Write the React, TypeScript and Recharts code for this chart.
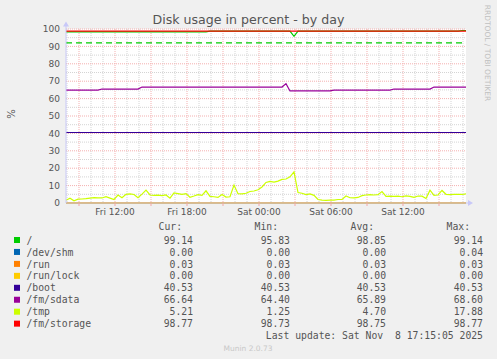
import React from 'react';
import { LineChart, Line, XAxis, YAxis, CartesianGrid, ReferenceLine, ReferenceDot } from 'recharts';

// Munin df plugin, day graph: samples every 20 minutes from Fri 07:55 to Sat 17:15
// (x values are hours counted from Fri 00:00)
const tStart = 7 + 55 / 60;
const tEnd = 41 + 15 / 60;
const sampleCount = 101;
const times = Array.from({ length: sampleCount }, (_, i) => tStart + (i * 20) / 60);

const names = ['/', '/dev/shm', '/run', '/run/lock', '/boot', '/fm/sdata', '/tmp', '/fm/storage'];
const keys = ['root', 'devshm', 'run', 'runlock', 'boot', 'sdata', 'tmp', 'storage'];
const colors = ['#00cc00', '#0066b3', '#ff8000', '#ffcc00', '#330099', '#990099', '#ccff00', '#ff0000'];

// stepped series: [sample index where the level starts, value]
const rootSteps = [[0, 98.4], [36, 98.8], [57, 95.83], [58, 98.8], [99, 99.14]];
const devshmSteps = [[0, 0]];
const runSteps = [[0, 0.03]];
const runlockSteps = [[0, 0]];
const bootSteps = [[0, 40.53]];
const sdataSteps = [[0, 64.9], [9, 65.5], [19, 66.64], [55, 68.6], [56, 64.4], [67, 64.9], [82, 65.5], [92, 66.64]];
const storageSteps = [[0, 98.77]];

// /tmp, one value per sample
const tmpValues = [
  1.6, 2.8, 1.3, 2.2, 2.3, 2.5, 2.8, 3.1, 3.0, 2.9,
  3.6, 2.8, 2.0, 4.6, 3.0, 5.0, 5.2, 4.9, 3.0, 5.1,
  7.4, 4.6, 4.4, 4.5, 4.2, 4.6, 2.8, 5.8, 5.4, 5.0,
  5.4, 3.3, 4.0, 4.8, 4.4, 7.0, 3.8, 3.6, 3.2, 4.9,
  3.4, 3.6, 10.3, 5.3, 5.2, 5.6, 6.6, 6.9, 7.6, 9.2,
  11.8, 12.4, 12.0, 12.6, 13.6, 13.8, 15.0, 17.88, 6.0, 5.6,
  4.8, 5.2, 4.4, 2.0, 1.6, 1.5, 1.7, 1.6, 2.0, 2.1,
  4.0, 3.0, 2.9, 3.2, 4.2, 4.6, 4.8, 4.6, 4.8, 6.6,
  3.8, 4.0, 3.8, 4.0, 3.6, 4.1, 3.8, 3.2, 4.0, 3.9,
  2.6, 7.4, 4.4, 4.6, 7.2, 5.0, 4.8, 5.0, 5.0, 4.9,
  5.21,
];

const warningLevel = 92;

// legend table
const curVals = ['99.14', '0.00', '0.03', '0.00', '40.53', '66.64', '5.21', '98.77'];
const minVals = ['95.83', '0.00', '0.03', '0.00', '40.53', '64.40', '1.25', '98.73'];
const avgVals = ['98.85', '0.00', '0.03', '0.00', '40.53', '65.89', '4.70', '98.75'];
const maxVals = ['99.14', '0.04', '0.03', '0.00', '40.53', '68.60', '17.88', '98.77'];
const lastUpdate = 'Last update: Sat Nov\u00a0\u00a08 17:15:05 2025';

const yTicks = [0, 10, 20, 30, 40, 50, 60, 70, 80, 90, 100];
const yMinor = [5, 15, 25, 35, 45, 55, 65, 75, 85, 95];
const xMajor = [9, 12, 15, 18, 21, 24, 27, 30, 33, 36, 39];
const xMinor = [8, 10, 11, 13, 14, 16, 17, 19, 20, 22, 23, 25, 26, 28, 29, 31, 32, 34, 35, 37, 38, 40, 41];
const xLabels: Record<number, string> = { 12: 'Fri 12:00', 18: 'Fri 18:00', 24: 'Sat 00:00', 30: 'Sat 06:00', 36: 'Sat 12:00' };

function stepAt(steps: number[][], i: number) {
  let v = steps[0][1];
  for (const [from, val] of steps) if (i >= from) v = val;
  return v;
}

const data = times.map((t, i) => ({
  t,
  root: stepAt(rootSteps, i),
  devshm: stepAt(devshmSteps, i),
  run: stepAt(runSteps, i),
  runlock: stepAt(runlockSteps, i),
  boot: stepAt(bootSteps, i),
  sdata: stepAt(sdataSteps, i),
  tmp: tmpValues[i],
  storage: stepAt(storageSteps, i),
}));

const textColor = '#555';
const axisColor = '#c8c8f8';
const sans = 'DejaVu Sans';
const mono = 'DejaVu Sans Mono';

const RightArrow = (props: any) => {
  const { cx, cy } = props;
  return (
    <g>
      <line x1={cx} y1={cy} x2={cx + 3} y2={cy} stroke={axisColor} />
      <path d={`M${cx + 2},${cy - 3} L${cx + 7},${cy} L${cx + 2},${cy + 3} Z`} fill={axisColor} />
    </g>
  );
};

const UpArrow = (props: any) => {
  const { cx, cy } = props;
  return (
    <g>
      <line x1={cx} y1={cy} x2={cx} y2={cy - 3} stroke={axisColor} />
      <path d={`M${cx - 3},${cy - 2.5} L${cx},${cy - 7.5} L${cx + 3},${cy - 2.5} Z`} fill={axisColor} />
    </g>
  );
};

const rowY = (k: number) => 243.6 + k * 11.95;

export default function App() {
  return (
    <div style={{ position: 'absolute', left: 0, top: 0, width: 497, height: 359, background: '#f0f0f0', overflow: 'hidden' }}>
      <LineChart width={497} height={230} data={data} margin={{ top: 29, right: 31, bottom: 7, left: 26 }}>
        <CartesianGrid
          fill="#ffffff"
          stroke="#d4d4d4"
          strokeDasharray="1 1"
          horizontalValues={yMinor}
          verticalValues={xMinor}
        />
        <CartesianGrid
          stroke="#f4b0b0"
          strokeDasharray="1 1"
          horizontalValues={yTicks.slice(1)}
          verticalValues={xMajor}
        />
        <XAxis
          dataKey="t"
          type="number"
          domain={[tStart, tEnd]}
          ticks={xMajor}
          tickFormatter={(h: number) => xLabels[h] || ''}
          interval={0}
          height={20}
          stroke={axisColor}
          tickLine={{ stroke: '#f2a6a6' }}
          tickSize={3}
          tickMargin={3}
          tick={{ fill: textColor, fontSize: 9, fontFamily: sans }}
        />
        <YAxis
          type="number"
          domain={[0, 100]}
          ticks={yTicks}
          interval={0}
          width={40}
          stroke={axisColor}
          tickLine={false}
          tickSize={4}
          tickMargin={2}
          tick={{ fill: textColor, fontSize: 9, fontFamily: sans }}
        />
        <ReferenceLine y={warningLevel} stroke="#00cc00" strokeWidth={1.2} strokeDasharray="6 4" />
        {keys.map((k, i) => (
          <Line
            key={k}
            dataKey={k}
            type="linear"
            stroke={colors[i]}
            strokeWidth={1.2}
            dot={false}
            activeDot={false}
            isAnimationActive={false}
          />
        ))}
        <ReferenceDot x={tEnd} y={0} ifOverflow="visible" shape={RightArrow} />
        <ReferenceDot x={tStart} y={100} ifOverflow="visible" shape={UpArrow} />
      </LineChart>
      <svg width={497} height={359} style={{ position: 'absolute', left: 0, top: 0, pointerEvents: 'none' }}>
        <text x={248.5} y={24} textAnchor="middle" fontFamily={sans} fontSize={12.6} fill={textColor}>
          Disk usage in percent - by day
        </text>
        <text transform="translate(11,114) rotate(-90)" textAnchor="middle" dominantBaseline="central" fontFamily={sans} fontSize={10} fill={textColor}>
          %
        </text>
        <text transform="translate(487,53) rotate(90)" textAnchor="middle" dominantBaseline="central" fontFamily={sans} fontSize={7.5} fill="#c0c0c0">
          RRDTOOL / TOBI OETIKER
        </text>
        <g fontFamily={mono} fontSize={9.75} fill={textColor}>
          <text x={182} y={230.3} textAnchor="end">Cur:</text>
          <text x={278} y={230.3} textAnchor="end">Min:</text>
          <text x={374} y={230.3} textAnchor="end">Avg:</text>
          <text x={470} y={230.3} textAnchor="end">Max:</text>
          {names.map((n, k) => (
            <g key={n}>
              <rect x={14} y={rowY(k) - 6.6} width={6} height={6} fill={colors[k]} />
              <text x={26.5} y={rowY(k)}>{n}</text>
              <text x={193} y={rowY(k)} textAnchor="end">{curVals[k]}</text>
              <text x={290} y={rowY(k)} textAnchor="end">{minVals[k]}</text>
              <text x={386} y={rowY(k)} textAnchor="end">{avgVals[k]}</text>
              <text x={483} y={rowY(k)} textAnchor="end">{maxVals[k]}</text>
            </g>
          ))}
          <text x={483} y={339} textAnchor="end">{lastUpdate}</text>
        </g>
        <text x={248} y={351} textAnchor="middle" fontFamily={sans} fontSize={7.5} fill="#c8c8c8">
          Munin 2.0.73
        </text>
      </svg>
    </div>
  );
}
